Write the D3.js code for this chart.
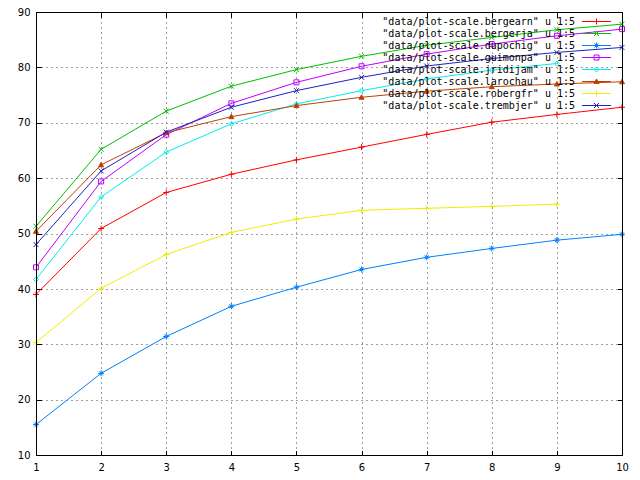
<!DOCTYPE html>
<html><head><meta charset="utf-8">
<script src="https://cdn.jsdelivr.net/npm/d3@7"></script>
<style>body{margin:0;background:#fff}svg{display:block}</style>
</head><body>
<script>
const xTicks = [1,2,3,4,5,6,7,8,9,10];
const yTicks = [10,20,30,40,50,60,70,80,90];
const seriesNames = ["bergearn","bergerja","dupochig","guimonpa","jridijam","larochau","robergfr","trembjer"];
const colors = ["#ff0000","#00c000","#0080ff","#c000ff","#00eeee","#c04000","#eeee00","#2020c0"];
const markers = ["plus","cross","star","square","diamond","triangle","plus","cross"];
const bergearn = [39.0,50.9,57.4,60.7,63.3,65.6,67.9,70.1,71.5,72.8];
const bergerja = [51.3,65.2,72.1,76.6,79.6,82.0,84.0,85.4,86.8,87.8];
const dupochig = [15.5,24.75,31.4,36.85,40.3,43.5,45.7,47.3,48.8,49.85];
const guimonpa = [43.9,59.4,67.85,73.5,77.3,80.2,82.4,84.2,85.7,86.9];
const jridijam = [41.7,56.6,64.7,69.8,73.4,75.8,77.9,79.5,80.7];
const larochau = [50.4,62.4,68.2,71.1,73.1,74.6,75.7,76.5,77.0,77.4];
const robergfr = [30.3,40.1,46.2,50.2,52.6,54.2,54.55,54.9,55.3];
const trembjer = [48.0,61.3,68.3,72.8,75.8,78.2,80.25,81.6,82.7,83.6];
const seriesValues = [bergearn,bergerja,dupochig,guimonpa,jridijam,larochau,robergfr,trembjer];

const W=640,H=480, L=36, R=622, T=12, B=455;
const svg = d3.select("body").append("svg").attr("width",W).attr("height",H);
svg.append("rect").attr("width",W).attr("height",H).attr("fill","#fff");
const x = d3.scaleLinear().domain([1,10]).range([L,R]);
const y = d3.scaleLinear().domain([10,90]).range([B,T]);

// grid
const g = svg.append("g").attr("shape-rendering","crispEdges");
g.selectAll(".gx").data(xTicks.slice(1,-1)).join("line")
  .attr("x1",d=>Math.round(x(d))+0.5).attr("x2",d=>Math.round(x(d))+0.5)
  .attr("y1",T).attr("y2",B).attr("stroke","#a0a0a0").attr("stroke-dasharray","2,3");
g.selectAll(".gy").data(yTicks.slice(1,-1)).join("line")
  .attr("y1",d=>Math.round(y(d))+0.5).attr("y2",d=>Math.round(y(d))+0.5)
  .attr("x1",L).attr("x2",R).attr("stroke","#a0a0a0").attr("stroke-dasharray","2,3");

// axes (ticks inward, mirrored)
const tl=5;
const axL = d3.axisLeft(y).tickValues(yTicks).tickSize(-tl).tickPadding(6);
const axR = d3.axisRight(y).tickValues(yTicks).tickSize(-tl).tickFormat("");
const axB = d3.axisBottom(x).tickValues(xTicks).tickSize(-tl).tickPadding(8);
const axT = d3.axisTop(x).tickValues(xTicks).tickSize(-tl).tickFormat("");
function styleAxis(sel){
  sel.attr("shape-rendering","crispEdges");
  sel.select(".domain").remove();
  sel.selectAll("line").attr("stroke","#000");
  sel.selectAll("text").attr("font-family","DejaVu Sans, sans-serif").attr("font-size",10).attr("fill","#000");
}
svg.append("g").attr("transform",`translate(${L+0.5},0)`).call(axL).call(styleAxis);
svg.append("g").attr("transform",`translate(${R+0.5},0)`).call(axR).call(styleAxis);
svg.append("g").attr("transform",`translate(0,${B+0.5})`).call(axB).call(styleAxis);
svg.append("g").attr("transform",`translate(0,${T+0.5})`).call(axT).call(styleAxis);

function marker(sel, type, cx, cy, color){
  const s=3;
  const p = sel.append("path").attr("transform",`translate(${cx},${cy})`).attr("stroke",color).attr("stroke-width",1).attr("fill","none");
  if(type==="plus") p.attr("d",`M${-s},0H${s}M0,${-s}V${s}`);
  else if(type==="cross") p.attr("d",`M${-s+0.5},${-s+0.5}L${s-0.5},${s-0.5}M${-s+0.5},${s-0.5}L${s-0.5},${-s+0.5}`);
  else if(type==="star") p.attr("d",`M${-s},0H${s}M0,${-s}V${s}M${-s+1},${-s+1}L${s-1},${s-1}M${-s+1},${s-1}L${s-1},${-s+1}`);
  else if(type==="square") p.attr("d",`M-2.5,-2.5H2.5V2.5H-2.5Z`);
  else if(type==="diamond") p.attr("d",`M0,-2.5L2.5,0L0,2.5L-2.5,0Z`);
  else if(type==="triangle") p.attr("d",`M0,-2.5L2.5,2H-2.5Z`).attr("fill",color);
}

const line = d3.line().x((d,i)=>x(xTicks[i])).y(d=>y(d));
const plot = svg.append("g");
seriesValues.forEach((vals,k)=>{
  plot.append("path").datum(vals).attr("d",line).attr("fill","none").attr("stroke",colors[k]).attr("stroke-width",1);
  vals.forEach((v,i)=>marker(plot, markers[k], x(xTicks[i]), y(v), colors[k]));
});

// legend
const lg = svg.append("g");
seriesNames.forEach((n,k)=>{
  const ry = 21 + k*12;
  lg.append("text").attr("x",575).attr("y",ry+3.5).attr("text-anchor","end")
    .attr("font-family","DejaVu Sans Mono, monospace").attr("font-size",10).attr("fill","#000")
    .text(`"data/plot-scale.${n}" u 1:5`);
  lg.append("line").attr("x1",582).attr("x2",611).attr("y1",ry+0.5).attr("y2",ry+0.5).attr("stroke",colors[k]);
  marker(lg, markers[k], 596.5, ry+0.5, colors[k]);
});

// border
svg.append("rect").attr("x",L+0.5).attr("y",T+0.5).attr("width",R-L).attr("height",B-T)
  .attr("fill","none").attr("stroke","#000").attr("shape-rendering","crispEdges");
</script>
</body></html>
